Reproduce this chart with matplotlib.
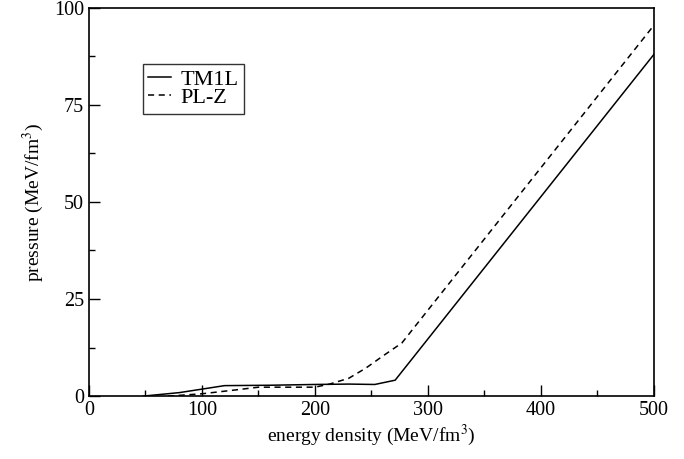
import matplotlib
matplotlib.use("Agg")
import matplotlib.pyplot as plt
from matplotlib.ticker import MultipleLocator

# TM1L equation of state
tm1l_e = [48, 80, 100, 120, 160, 200, 230, 253, 271, 500]
tm1l_p = [0.0, 0.9, 1.8, 2.7, 2.8, 3.0, 3.1, 3.0, 4.1, 88.0]

# PL-Z equation of state
plz_e = [70, 100, 130, 150, 200, 213, 230, 245, 260, 277, 500]
plz_p = [0.0, 0.6, 1.6, 2.3, 2.3, 3.1, 4.6, 7.2, 10.3, 13.7, 95.5]

plt.rcParams['font.family'] = ['Liberation Serif', 'DejaVu Serif']
plt.rcParams['mathtext.fontset'] = 'stix'

fig = plt.figure(figsize=(6.84, 4.59), dpi=100)
ax = fig.add_axes([0.130, 0.137, 0.826, 0.846])

ax.plot(tm1l_e, tm1l_p, color='black', lw=1.1, label='TM1L')
ax.plot(plz_e, plz_p, color='black', lw=1.1, ls=(0, (4, 3)), label='PL-Z')

ax.set_xlim(0, 500)
ax.set_ylim(0, 100)
ax.xaxis.set_major_locator(MultipleLocator(100))
ax.xaxis.set_minor_locator(MultipleLocator(50))
ax.yaxis.set_major_locator(MultipleLocator(25))
ax.yaxis.set_minor_locator(MultipleLocator(12.5))
ax.tick_params(which='both', direction='in', labelsize=14.5, width=1)
ax.tick_params(which='major', length=8)
ax.tick_params(which='minor', length=4)
for s in ax.spines.values():
    s.set_linewidth(1.2)

ax.set_xlabel(r'energy density (MeV/fm$^3$)', fontsize=14, labelpad=2)
ax.set_ylabel(r'pressure (MeV/fm$^3$)', fontsize=14, labelpad=6)

leg = ax.legend(loc='upper left', bbox_to_anchor=(0.0956, 0.856), fontsize=16,
                frameon=True, fancybox=False, handlelength=1.0,
                borderpad=0.25, labelspacing=-0.1, handletextpad=0.45,
                borderaxespad=0)
leg.get_frame().set_edgecolor('black')
leg.get_frame().set_linewidth(1.0)

fig.savefig('out.png', dpi=100)
